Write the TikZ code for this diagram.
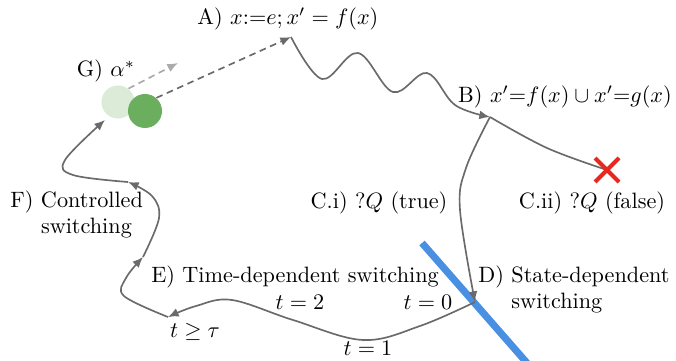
\documentclass[tikz,border=0pt]{standalone}
\usetikzlibrary{arrows.meta,calc}
\definecolor{linegray}{HTML}{6A6A6A}
\definecolor{dashlight}{HTML}{ABABAB}
\definecolor{greenlight}{HTML}{DCEBD8}
\definecolor{greendark}{HTML}{6AAE5E}
\definecolor{wallblue}{HTML}{4A90E2}
\definecolor{crossred}{HTML}{E8281E}
\begin{document}
\begin{tikzpicture}[x=0.45pt,y=-0.45pt,
  conn/.style={draw=linegray, line width=0.75pt, -{Latex[length=4.8pt,width=4pt]}},
  dashconn/.style={conn, dash pattern=on 3pt off 2.1pt},
  lbl/.style={inner sep=0pt, anchor=center},
  twoline/.style={inner sep=0pt, anchor=west},
  blob/.style={circle, inner sep=0pt, draw=none}]
\path[use as bounding box] (0,0) rectangle (676,361);

% labels
\node[inner sep=0pt, anchor=west] (labA) at (197,19) {A) $x{:=}e; x' = f(x)$};
\node[lbl] (labG) at (106,71) {G) $\alpha^{*}$};
\node[lbl] (labB) at (565,97) {B) $x'{=}f(x) \cup x'{=}g(x)$};
\node[lbl] (labCi) at (379,203) {C.i) $?Q$ (true)};
\node[lbl] (labCii) at (592,203) {C.ii) $?Q$ (false)};
\node[lbl] (labE) at (295,277) {E) Time-dependent switching};
\node[twoline] (labD) at (478,290) {\begin{tabular}{@{}l@{ }l@{}}D) & State-dependent\\ & switching\end{tabular}};
\node[twoline] (labF) at (10,215) {\begin{tabular}{@{}l@{ }l@{}}F) & Controlled\\ & switching\end{tabular}};
\node[lbl] (t2) at (300,302) {$t = 2$};
\node[lbl] (t0) at (428,302) {$t = 0$};
\node[lbl] (t1) at (368,348) {$t = 1$};
\node[lbl] (ttau) at (195,332) {$t \geq \tau$};

% blue wall
\draw[wallblue, line width=3.2pt] (422,243) -- (527,363);

% states
\node[blob, fill=greenlight, minimum size=14.9pt] (lc) at (118,102) {};
\node[blob, fill=greendark, minimum size=15.3pt] (dc) at (145,111) {};

\coordinate (Atip) at (291,37);
\coordinate (ghost) at (178,63);
\coordinate (Bpt) at (490,117);
\coordinate (Dpt) at (475,302);
\coordinate (tge) at (168,317);
\coordinate (m1) at (143,257);
\coordinate (m2) at (128,182);
\coordinate (lcin) at (105,120);
\coordinate (X) at (607,170);

% dashed arrows
\draw[dashconn, draw=dashlight] (lc.52) -- (ghost);
\draw[dashconn] (dc.49) -- (Atip);

% wave A -> B
\draw[conn] plot[smooth, tension=0.6] coordinates {(Atip) (322,79) (358,53) (393,92) (427,73) (455,105) (Bpt)};

% B -> X (false)
\draw[draw=linegray, line width=0.75pt] plot[smooth, tension=0.6] coordinates {(Bpt) (547,148) (X)};

% B -> D (true)
\draw[conn] plot[smooth, tension=0.6] coordinates {(Bpt) (466,168) (460,210) (Dpt)};

% D -> t >= tau
\draw[conn] plot[smooth, tension=0.6] coordinates {(Dpt) (420,326) (363,340) (293,320) (232,300) (196,306) (tge)};

% controlled switching
\draw[conn] plot[smooth, tension=0.6] coordinates {(tge) (124,296) (126,278) (m1)};
\draw[conn] plot[smooth, tension=0.6] coordinates {(m1) (159,218) (152,196) (m2)};
\draw[conn] plot[smooth, tension=0.6] coordinates {(m2) (73,175) (65,160) (lcin)};

% red cross
\draw[crossred, line width=1.8pt] ($(X)+(-12,-12)$) -- ($(X)+(12,12)$);
\draw[crossred, line width=1.8pt] ($(X)+(12,-12)$) -- ($(X)+(-12,12)$);
\end{tikzpicture}
\end{document}
